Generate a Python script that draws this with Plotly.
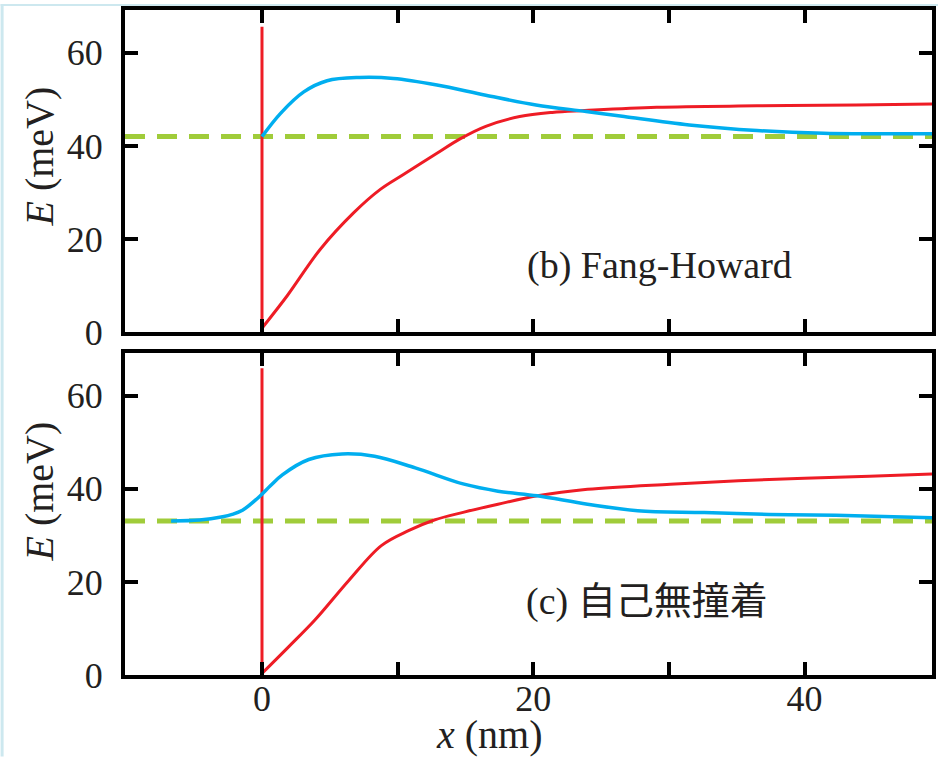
import plotly.graph_objects as go

# ---------------- data ----------------
x_range = [-10.1, 49.4]
y_range = [0, 69.2]

# (b) Fang-Howard
top_spike_y = [65.6, 1.1]
top_red_x = [0.07, 1.86, 4.3, 6.75, 8.7, 10.4, 12.9, 14.6, 16.5, 19.0, 21.4, 23.8, 29.1, 36.5, 43.8, 49.4]
top_red_y = [1.1, 7.8, 17.8, 25.6, 30.6, 33.8, 38.4, 41.5, 44.2, 46.3, 47.2, 47.6, 48.3, 48.6, 48.8, 49.0]
top_blue_x = [0, 1.37, 3.08, 4.8, 7.2, 9.7, 12.9, 16.5, 20.2, 23.9, 26.7, 31.5, 36.5, 41.4, 49.4]
top_blue_y = [42.0, 47.0, 51.6, 54.0, 54.7, 54.5, 53.1, 50.9, 48.8, 47.4, 46.3, 44.5, 43.3, 42.7, 42.6]
top_fermi = 42.0

# (c) self-consistent
bot_spike_y = [65.9, 0.4]
bot_red_x = [0.02, 1.98, 3.9, 6.4, 8.8, 10.8, 12.7, 14.9, 17.4, 20.3, 24.0, 30.1, 37.4, 44.8, 49.4]
bot_red_y = [0.4, 6.1, 11.8, 20.3, 27.8, 31.0, 33.3, 35.0, 36.7, 38.5, 39.9, 41.0, 42.0, 42.7, 43.2]
bot_blue_x = [-6.7, -4.6, -2.9, -2.2, -1.44, -0.2, 0.6, 1.5, 3.45, 5.9, 8.3, 11.3, 14.9, 17.4, 20.3, 24.0, 27.7, 32.6, 37.4, 42.3, 49.4]
bot_blue_y = [33.1, 33.3, 34.0, 34.5, 35.4, 38.3, 40.6, 43.0, 46.3, 47.5, 47.0, 44.5, 41.0, 39.5, 38.5, 36.7, 35.3, 34.9, 34.5, 34.3, 33.8]
bot_fermi = 33.1

x_tickvals = [0, 10, 20, 30, 40]
x_ticktext = ["0", "", "20", "", "40"]
y_tickvals = [0, 20, 40, 60]

label_b = "(b) Fang-Howard"
label_c_latin = "(c) "
label_c_cjk = "自己無撞着"
x_title = "<i>x</i> (nm)"
y_title = "<i>E</i> (meV)"

RED = "#ee1c25"
BLUE = "#00aeef"
GREEN = "#a0cc3a"
INK = "#231f20"
SERIF = "Liberation Serif"

fig = go.Figure()

def add_panel(xa, ya, spike_y, rx, ry, bx, by, ef):
    fig.add_trace(go.Scatter(x=x_range, y=[ef, ef], mode="lines",
                             line=dict(color=GREEN, width=5, dash="20px,12px"),
                             xaxis=xa, yaxis=ya, showlegend=False))
    fig.add_trace(go.Scatter(x=[0, 0], y=spike_y, mode="lines",
                             line=dict(color=RED, width=3),
                             xaxis=xa, yaxis=ya, showlegend=False))
    fig.add_trace(go.Scatter(x=rx, y=ry, mode="lines",
                             line=dict(color=RED, width=3, shape="spline", smoothing=1.0),
                             xaxis=xa, yaxis=ya, showlegend=False))
    fig.add_trace(go.Scatter(x=bx, y=by, mode="lines",
                             line=dict(color=BLUE, width=3.5, shape="spline", smoothing=1.0),
                             xaxis=xa, yaxis=ya, showlegend=False))

add_panel("x", "y", top_spike_y, top_red_x, top_red_y, top_blue_x, top_blue_y, top_fermi)
add_panel("x2", "y2", bot_spike_y, bot_red_x, bot_red_y, bot_blue_x, bot_blue_y, bot_fermi)

axis_common = dict(showline=True, linewidth=4, linecolor="black", mirror="ticks",
                   ticks="inside", ticklen=13, tickwidth=4, tickcolor="black",
                   showgrid=False, zeroline=False,
                   tickfont=dict(family=SERIF, size=36, color=INK))

# plot area in pixels: x 125..936, y 6..675
def px_x(p):
    return (p - 125) / 811.0

def px_y(p):
    return (675 - p) / 669.0

fig.update_layout(
    width=942, height=757,
    margin=dict(l=125, r=6, t=6, b=82),
    plot_bgcolor="white", paper_bgcolor="white",
    font=dict(family=SERIF, color=INK),
    xaxis=dict(domain=[0, 1], range=x_range, anchor="y", tickvals=x_tickvals,
               ticktext=["", "", "", "", ""], ticklabelstandoff=-11, **axis_common),
    yaxis=dict(domain=[0.5157, 1], range=y_range, anchor="x", tickvals=y_tickvals,
               ticklabelstandoff=11, **axis_common),
    xaxis2=dict(domain=[0, 1], range=x_range, anchor="y2", tickvals=x_tickvals,
                ticktext=x_ticktext, ticklabelstandoff=-11, **axis_common),
    yaxis2=dict(domain=[0, 0.4843], range=y_range, anchor="x2", tickvals=y_tickvals,
                ticklabelstandoff=11, **axis_common),
    annotations=[
        dict(x=29.3, y=14.3, xref="x", yref="y", text=label_b, showarrow=False,
             font=dict(family=SERIF, size=38, color=INK)),
        dict(x=28.4, y=16.7, xref="x2", yref="y2",
             text=label_c_latin + '<span style="font-family:\'Noto Sans CJK JP\'">' + label_c_cjk + "</span>",
             showarrow=False, font=dict(family=SERIF, size=38, color=INK)),
        dict(x=px_x(491), y=px_y(735), xref="paper", yref="paper", text=x_title,
             showarrow=False, xanchor="center", yanchor="middle",
             font=dict(family=SERIF, size=40, color=INK)),
        dict(x=px_x(39), y=px_y(153), xref="paper", yref="paper", text=y_title,
             showarrow=False, textangle=-90, xanchor="center", yanchor="middle",
             font=dict(family=SERIF, size=40, color=INK)),
        dict(x=px_x(39), y=px_y(490), xref="paper", yref="paper", text=y_title,
             showarrow=False, textangle=-90, xanchor="center", yanchor="middle",
             font=dict(family=SERIF, size=40, color=INK)),
    ],
    shapes=[
        dict(type="line", xref="paper", yref="paper", x0=px_x(1.5), x1=px_x(1.5),
             y0=px_y(757), y1=px_y(0), line=dict(color="#cde8ef", width=3), layer="below"),
        dict(type="line", xref="paper", yref="paper", x0=px_x(0), x1=px_x(942),
             y0=px_y(1), y1=px_y(1), line=dict(color="#cde8ef", width=2), layer="below"),
    ],
)

fig.write_html("out.html")
